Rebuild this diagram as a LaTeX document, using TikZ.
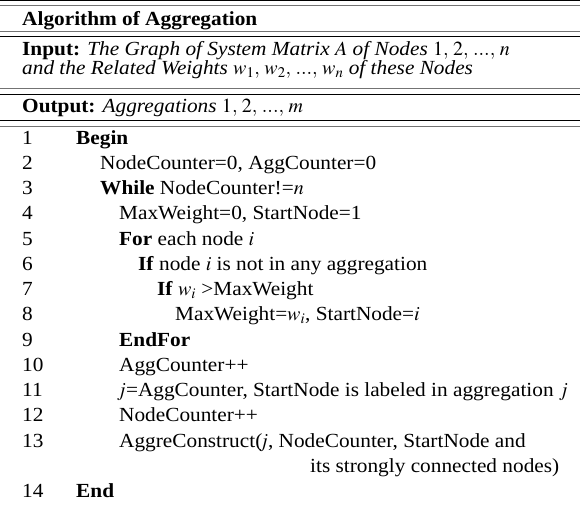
\documentclass[tikz,border=0pt]{standalone}
\usepackage{mathptmx}
\usepackage{fontspec}
\setmainfont[FakeStretch=1.065]{Liberation Serif}
\begin{document}
\begin{tikzpicture}[x=1pt,y=-1pt,
  txt/.style={inner sep=0pt,anchor=base west,font=\fontsize{20}{24}\selectfont},
  darkrule/.style={line width=1pt,black},
  lightrule/.style={line width=1pt,black!55}]
\useasboundingbox (0,0) rectangle (580,504);

% double rules framing the header blocks
\draw[darkrule]  (0,0.8) -- (580,0.8);
\draw[lightrule] (0,5)   -- (580,5);
\draw[lightrule] (0,31.7) -- (580,31.7);
\draw[darkrule]  (0,36.7) -- (580,36.7);
\draw[lightrule] (0,88.3) -- (580,88.3);
\draw[darkrule]  (0,94)   -- (580,94);
\draw[darkrule]  (0,120.8) -- (580,120.8);
\draw[lightrule] (0,126)   -- (580,126);

% header
\node[txt] (title) at (22,25) {\textbf{Algorithm of Aggregation}};
\node[txt] (in1) at (22,55.5) {\textbf{Input:} \textit{The Graph of System Matrix} $A$ \textit{of Nodes} $1,\, 2,\, ...,\, n$};
\node[txt] (in2) at (22,74.5) {\textit{and the Related Weights} $w_1,\, w_2,\, ...,\, w_n$ \textit{of these Nodes}};
\node[txt] (out) at (22,112) {\textbf{Output:} \textit{Aggregations} $1,\, 2,\, ...,\, m$};

% line numbers
\foreach \k in {1,...,13} {
  \node[txt] (n\k) at (22,{144+(\k-1)*25.25}) {\k};
}
\node[txt] (n14) at (22,497) {14};

% algorithm body
\node[txt] (l1)  at (76,144)    {\textbf{Begin}};
\node[txt] (l2)  at (100,169.25) {NodeCounter=0, AggCounter=0};
\node[txt] (l3)  at (100,194.5)  {\textbf{While} NodeCounter!=$n$};
\node[txt] (l4)  at (119,219.75) {MaxWeight=0, StartNode=1};
\node[txt] (l5)  at (119,245)    {\textbf{For} each node $i$};
\node[txt] (l6)  at (138,270.25) {\textbf{If} node $i$ is not in any aggregation};
\node[txt] (l7)  at (157,295.5)  {\textbf{If} $w_i$ >MaxWeight};
\node[txt] (l8)  at (175,320.75) {MaxWeight=$w_i$, StartNode=$i$};
\node[txt] (l9)  at (119,346)    {\textbf{EndFor}};
\node[txt] (l10) at (119,371.25) {AggCounter++};
\node[txt] (l11) at (119,396.5)  {$\mkern-2mu j$=AggCounter, StartNode is labeled in aggregation $j$};
\node[txt] (l12) at (119,421.75) {NodeCounter++};
\node[txt] (l13) at (119,447)    {AggreConstruct($\mkern-3mu j$, NodeCounter, StartNode and};
\node[txt] (l13b) at (310,472)   {its strongly connected nodes)};
\node[txt] (l14) at (76,497)     {\textbf{End}};
\end{tikzpicture}
\end{document}
